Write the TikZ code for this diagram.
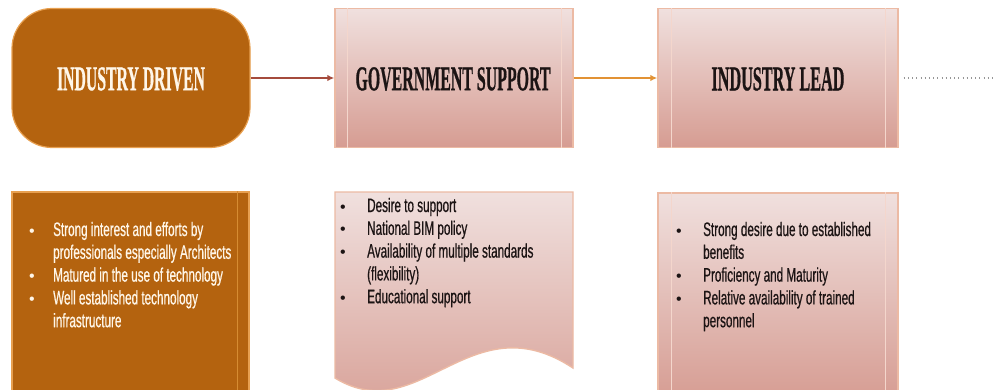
\documentclass[tikz,border=0pt]{standalone}
\usepackage{fontspec}
\usepackage{graphicx}
\setmainfont{Liberation Sans}
\newfontfamily\bodyfont[FakeStretch=0.6,FakeBold=0.6]{Liberation Sans}
\newfontfamily\titlefont[FakeBold=1]{Liberation Serif}
\usetikzlibrary{arrows.meta}

\definecolor{brownfill}{RGB}{180,99,15}
\definecolor{brownedge}{RGB}{232,160,80}
\definecolor{browninner}{RGB}{214,140,50}
\definecolor{pinktop}{RGB}{240,224,222}
\definecolor{pinkbot}{RGB}{214,156,146}
\definecolor{pinkedge}{RGB}{236,186,164}
\definecolor{innerpink}{RGB}{244,214,204}
\definecolor{arrowred}{RGB}{165,75,60}
\definecolor{arroworange}{RGB}{226,146,52}
\definecolor{darktext}{RGB}{28,20,20}
\definecolor{lighttext}{RGB}{255,246,232}
\definecolor{dotgray}{RGB}{150,150,150}

\newcommand{\mytitle}[2]{\resizebox{#1}{23pt}{\titlefont\bfseries #2}}
\newcommand{\mybul}{{\normalfont\fontsize{16}{16}\selectfont\textbullet}}

\tikzset{
  brownbox/.style={draw=brownedge, line width=1.2pt, fill=brownfill, inner sep=0pt},
  pinkbox/.style={draw=pinkedge, line width=1.4pt, top color=pinktop, bottom color=pinkbot, inner sep=0pt},
  innerline/.style={draw=innerpink, line width=0.9pt},
  titletext/.style={inner sep=0pt},
  bodytext/.style={inner sep=0pt, anchor=base west, font=\bodyfont\fontsize{19.5}{22.8}\selectfont},
  flowarrow/.style={line width=1.4pt, -{Latex[length=7pt,width=6.5pt]}},
}

\begin{document}
\begin{tikzpicture}[x=1pt,y=-1pt]
\useasboundingbox (0,0) rectangle (994,389);
\clip (0,0) rectangle (994,389);
\fill[white] (0,0) rectangle (994,389);

% top row
\node[brownbox, rounded corners=40pt, minimum width=238pt, minimum height=139pt] (drv) at (131,78) {};
\node[titletext, text=lighttext] (drvt) at (131,79) {\mytitle{148pt}{INDUSTRY DRIVEN}};

\node[pinkbox, minimum width=238pt, minimum height=139pt] (gov) at (454,78) {};
\draw[innerline] ([xshift=13.5pt]gov.north west) -- ([xshift=13.5pt]gov.south west);
\draw[innerline] ([xshift=-12pt]gov.north east) -- ([xshift=-12pt]gov.south east);
\node[titletext, text=darktext] (govt) at (453,79) {\mytitle{195pt}{GOVERNMENT SUPPORT}};

\node[pinkbox, minimum width=240pt, minimum height=139pt] (lead) at (778,78) {};
\draw[innerline] ([xshift=14pt]lead.north west) -- ([xshift=14pt]lead.south west);
\draw[innerline] ([xshift=-13pt]lead.north east) -- ([xshift=-13pt]lead.south east);
\node[titletext, text=darktext] (leadt) at (778,79) {\mytitle{133pt}{INDUSTRY LEAD}};

\coordinate (tail) at (992,78);
\draw[flowarrow, arrowred] (drv.east) -- (gov.west);
\draw[flowarrow, arroworange] (gov.east) -- (lead.west);
\draw[dotgray, line width=1.1pt, dash pattern=on 1pt off 3.2pt] ([xshift=5pt]lead.east) -- (tail);

% bottom row
\node[brownbox, minimum width=237pt, minimum height=208pt] (b1) at (130.5,296) {};
\draw[draw=browninner, line width=0.9pt] ([xshift=-12pt]b1.north east) -- ([xshift=-12pt]b1.south east);
\node[bodytext, text=lighttext] (b1t) at (29,236) {%
  \begin{tabular}[t]{@{}p{24pt}@{}l@{}}
  \mybul & Strong interest and efforts by\\
         & professionals especially Architects\\
  \mybul & Matured in the use of technology\\
  \mybul & Well established technology\\
         & infrastructure
  \end{tabular}};

\path[pinkbox] (335,192) -- (573,192) -- (573,368)
   .. controls (470,300) and (420,430) .. (335,378) -- cycle;
\node[bodytext, text=darktext] (b2t) at (340,212) {%
  \begin{tabular}[t]{@{}p{27pt}@{}l@{}}
  \mybul & Desire to support\\
  \mybul & National BIM policy\\
  \mybul & Availability of multiple standards\\
         & (flexibility)\\
  \mybul & Educational support
  \end{tabular}};

\node[pinkbox, minimum width=240pt, minimum height=208pt] (b3) at (778,297) {};
\draw[innerline] ([xshift=14pt]b3.north west) -- ([xshift=14pt]b3.south west);
\draw[innerline] ([xshift=-13pt]b3.north east) -- ([xshift=-13pt]b3.south east);
\node[bodytext, text=darktext] (b3t) at (676,236) {%
  \begin{tabular}[t]{@{}p{27pt}@{}l@{}}
  \mybul & Strong desire due to established\\
         & benefits\\
  \mybul & Proficiency and Maturity\\
  \mybul & Relative availability of trained\\
         & personnel
  \end{tabular}};
\end{tikzpicture}
\end{document}
